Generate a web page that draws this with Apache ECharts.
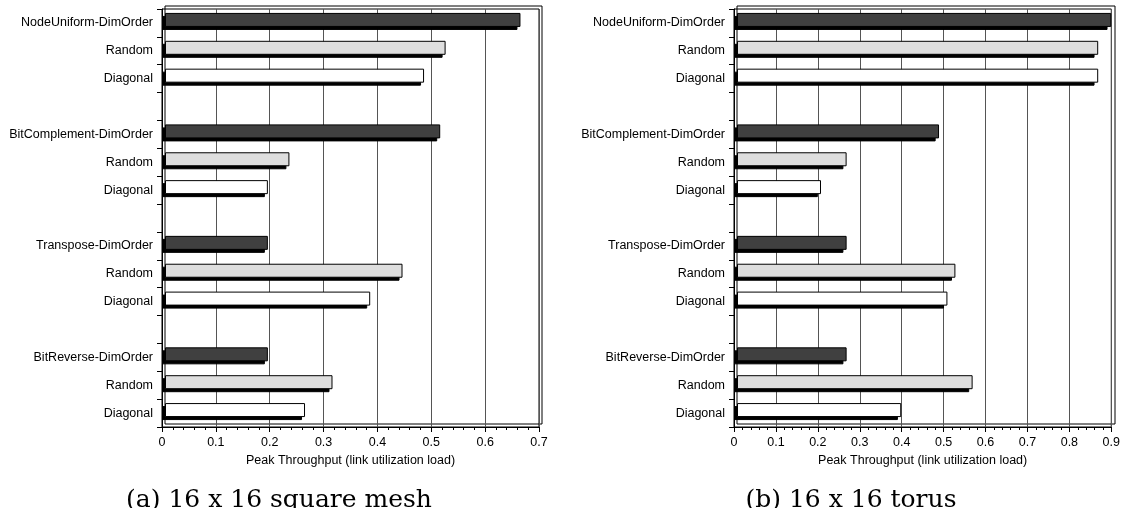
<!DOCTYPE html>
<html>
<head>
<meta charset="utf-8">
<script src="https://cdn.jsdelivr.net/npm/echarts@6/dist/echarts.min.js"></script>
<style>
html,body{margin:0;padding:0;background:#fff;}
#c{width:1123px;height:508px;}
</style>
</head>
<body>
<div id="c"></div>
<script>
const categories = ['NodeUniform-DimOrder','Random','Diagonal','',
  'BitComplement-DimOrder','Random','Diagonal','',
  'Transpose-DimOrder','Random','Diagonal','',
  'BitReverse-DimOrder','Random','Diagonal'];
const meshDimOrder = [0.660, 0.511, 0.191, 0.191];
const meshRandom   = [0.521, 0.231, 0.441, 0.311];
const meshDiagonal = [0.481, 0.191, 0.381, 0.260];
const torusDimOrder = [0.891, 0.481, 0.261, 0.261];
const torusRandom   = [0.860, 0.261, 0.520, 0.561];
const torusDiagonal = [0.860, 0.200, 0.501, 0.391];
const meshTicks = {min: 0, max: 0.7, interval: 0.1};
const torusTicks = {min: 0, max: 0.9, interval: 0.1};
const axisName = 'Peak Throughput (link utilization load)';
const captionA = '(a) 16 x 16 square mesh';
const captionB = '(b) 16 x 16 torus';

function spread(vals, offset) {
  const arr = categories.map(() => '-');
  vals.forEach((v, g) => { arr[g * 4 + offset] = v; });
  return arr;
}
const FONT = '"Liberation Sans", Arial, sans-serif';
const colors = ['#404040', '#dedede', '#ffffff'];

// face bars on the back grid
function barSeries(grid, vals, offset) {
  return {
    type: 'bar', xAxisIndex: grid, yAxisIndex: grid, z: 3,
    data: spread(vals, offset), barWidth: 14, barGap: '-100%',
    itemStyle: {color: colors[offset], borderColor: '#000', borderWidth: 1},
    silent: true, animation: false
  };
}
// depth (shadow) bars on the front grid
function depthSeries(grid, vals, offset) {
  return {
    type: 'bar', xAxisIndex: grid, yAxisIndex: grid, z: 2,
    data: spread(vals, offset), barWidth: 14, barGap: '-100%',
    itemStyle: {color: '#000', borderColor: '#000', borderWidth: 1},
    silent: true, animation: false
  };
}
function frontX(grid, t) {
  return {
    type: 'value', gridIndex: grid, min: t.min, max: t.max, interval: t.interval,
    axisLine: {show: true, lineStyle: {color: '#000', width: 1}},
    axisTick: {show: true, length: 5, lineStyle: {color: '#000'}},
    minorTick: {show: true, splitNumber: 5, length: 3, lineStyle: {color: '#000'}},
    splitLine: {show: true, lineStyle: {color: '#555', width: 1}},
    axisLabel: {fontFamily: FONT, fontSize: 12.5, color: '#000', margin: 9},
    name: axisName, nameLocation: 'middle', nameGap: 27,
    nameTextStyle: {fontFamily: FONT, fontSize: 12.5, color: '#000'}
  };
}
function frontY(grid) {
  return {
    type: 'category', gridIndex: grid, data: categories, inverse: true,
    axisLine: {show: true, lineStyle: {color: '#000', width: 1}},
    axisTick: {show: true, length: 5, interval: 0, lineStyle: {color: '#000'}},
    axisLabel: {interval: 0, fontFamily: FONT, fontSize: 12.5, color: '#000', margin: 9},
    splitLine: {show: false}
  };
}
function backX(grid, t) {
  return {type: 'value', gridIndex: grid, min: t.min, max: t.max, interval: t.interval, show: false, splitLine: {show: false}};
}
function backY(grid) {
  return {type: 'category', gridIndex: grid, data: categories, inverse: true, show: false};
}

const chart = echarts.init(document.getElementById('c'), null, {renderer: 'canvas'});
chart.setOption({
  animation: false,
  backgroundColor: '#fff',
  grid: [
    {left: 162, top: 9, width: 377, height: 418, show: true, borderColor: '#000', borderWidth: 1, backgroundColor: 'transparent'},
    {left: 165, top: 6, width: 377, height: 418, show: true, borderColor: '#000', borderWidth: 1, backgroundColor: 'transparent'},
    {left: 734, top: 9, width: 378, height: 418, show: true, borderColor: '#000', borderWidth: 1, backgroundColor: 'transparent'},
    {left: 737, top: 6, width: 378, height: 418, show: true, borderColor: '#000', borderWidth: 1, backgroundColor: 'transparent'}
  ],
  xAxis: [frontX(0, meshTicks), backX(1, meshTicks), frontX(2, torusTicks), backX(3, torusTicks)],
  yAxis: [frontY(0), backY(1), frontY(2), backY(3)],
  series: [
    depthSeries(0, meshDimOrder, 0), depthSeries(0, meshRandom, 1), depthSeries(0, meshDiagonal, 2),
    depthSeries(2, torusDimOrder, 0), depthSeries(2, torusRandom, 1), depthSeries(2, torusDiagonal, 2),
    barSeries(1, meshDimOrder, 0), barSeries(1, meshRandom, 1), barSeries(1, meshDiagonal, 2),
    barSeries(3, torusDimOrder, 0), barSeries(3, torusRandom, 1), barSeries(3, torusDiagonal, 2)
  ],
  graphic: [
    {type: 'text', x: 279, y: 500, style: {text: captionA, font: '25px "DejaVu Serif", serif', fill: '#000', textAlign: 'center', textVerticalAlign: 'middle'}},
    {type: 'text', x: 851, y: 500, style: {text: captionB, font: '25px "DejaVu Serif", serif', fill: '#000', textAlign: 'center', textVerticalAlign: 'middle'}}
  ]
});
</script>
</body>
</html>
